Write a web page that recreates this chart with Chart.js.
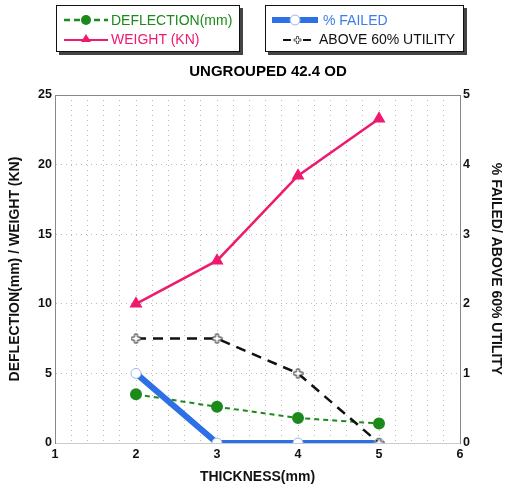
<!DOCTYPE html>
<html>
<head>
<meta charset="utf-8">
<script src="https://cdn.jsdelivr.net/npm/chart.js@4.4.0/dist/chart.umd.min.js"></script>
<style>
    body { margin: 0; background: #fff; font-family: "Liberation Sans", Arial, sans-serif; }
    .wrap { position: relative; width: 508px; height: 488px; }
    canvas { position: absolute; left: 0; top: 0; }
    .legend { position: absolute; top: 5px; height: 45px; border: 1.5px solid #111; background: #fff;
        box-shadow: 3px 3px 0 #444; font-size: 14px; }
    .row { position: absolute; left: 0; height: 18px; line-height: 18px; white-space: nowrap; }
    .row svg { position: absolute; top: 0; }
    .row span { position: absolute; top: 0; }
    .title { position: absolute; left: 0; width: 536px; top: 62px; text-align: center; font-weight: bold; font-size: 15px; }
</style>
</head>
<body>
<div class="wrap">
    <canvas id="myChart" width="508" height="488"></canvas>
    <div class="legend" style="left:56px;width:182px">
        <div class="row" style="top:5px">
            <svg width="50" height="18" style="left:5px"><line x1="2" y1="9" x2="46" y2="9" stroke="#1b8a1b" stroke-width="2.5" stroke-dasharray="6,4"/><circle cx="24" cy="9" r="5" fill="#1b8a1b"/></svg>
            <span style="left:54px;color:#1b8a1b">DEFLECTION(mm)</span>
        </div>
        <div class="row" style="top:24px">
            <svg width="50" height="18" style="left:5px"><line x1="2" y1="10" x2="46" y2="10" stroke="#ee1a6e" stroke-width="2"/><polygon points="24,4 29,12 19,12" fill="#ee1a6e"/></svg>
            <span style="left:54px;color:#ee1a6e">WEIGHT (KN)</span>
        </div>
    </div>
    <div class="legend" style="left:265px;width:197px">
        <div class="row" style="top:5px">
            <svg width="52" height="18" style="left:5px"><line x1="1" y1="9" x2="47" y2="9" stroke="#2c6fe6" stroke-width="6"/><circle cx="24" cy="9" r="5" fill="#fff" stroke="#9bb7e8" stroke-width="1"/></svg>
            <span style="left:57px;color:#3c7ce8">% FAILED</span>
        </div>
        <div class="row" style="top:24px">
            <svg width="40" height="18" style="left:16px"><line x1="1" y1="10" x2="9" y2="10" stroke="#111" stroke-width="2"/><line x1="21" y1="10" x2="29" y2="10" stroke="#111" stroke-width="2"/><path d="M13.5 8.5h2.5v-2.5h2v2.5h2.5v2h-2.5v2.5h-2v-2.5h-2.5z" transform="translate(-1.5,0.5)" fill="#fff" stroke="#333" stroke-width="0.8"/></svg>
            <span style="left:53px;color:#111">ABOVE 60% UTILITY</span>
        </div>
    </div>
    <div class="title">UNGROUPED 42.4 OD</div>
</div>
<script>
const thickness = [2, 3, 4, 5]
const deflection = [3.5, 2.6, 1.8, 1.4]
const weight = [10.0, 13.1, 19.2, 23.3]
const failed = [1.0, 0, 0, 0]
const above60 = [1.5, 1.5, 1.0, 0]
const leftTicks = [0, 5, 10, 15, 20, 25]
const rightTicks = [0, 1, 2, 3, 4, 5]

const toPoints = (ys) => thickness.map((x, i) => ({ x: x, y: ys[i] }))

// hollow plus marker for the utility line
const plus = document.createElement('canvas')
plus.width = 11; plus.height = 11
const pc = plus.getContext('2d')
pc.fillStyle = '#fff'
pc.strokeStyle = '#333'
pc.lineWidth = 1
pc.beginPath()
pc.moveTo(4, 1); pc.lineTo(7, 1); pc.lineTo(7, 4); pc.lineTo(10, 4); pc.lineTo(10, 7); pc.lineTo(7, 7)
pc.lineTo(7, 10); pc.lineTo(4, 10); pc.lineTo(4, 7); pc.lineTo(1, 7); pc.lineTo(1, 4); pc.lineTo(4, 4)
pc.closePath()
pc.fill(); pc.stroke()

const tickFont = { family: 'Liberation Sans, Arial', size: 12.5, weight: 'bold' }
const titleFont = { family: 'Liberation Sans, Arial', size: 14, weight: 'bold' }

// top border of plot
const topLine = {
    id: 'topLine',
    afterDraw(chart) {
        const a = chart.chartArea
        const c = chart.ctx
        c.save()
        c.strokeStyle = '#888'
        c.lineWidth = 1
        c.beginPath()
        c.moveTo(a.left, a.top + 0.5)
        c.lineTo(a.right, a.top + 0.5)
        c.stroke()
        c.restore()
    }
}

const ctx = document.getElementById('myChart')
const myChart = new Chart(ctx, {
    type: 'line',
    data: {
        datasets: [{
            label: 'DEFLECTION(mm)',
            data: toPoints(deflection),
            yAxisID: 'y',
            borderColor: '#1b8a1b',
            backgroundColor: '#1b8a1b',
            borderWidth: 2,
            borderDash: [5, 4],
            pointRadius: 5,
            pointStyle: 'circle',
            order: 3
        }, {
            label: 'WEIGHT (KN)',
            data: toPoints(weight),
            yAxisID: 'y',
            borderColor: '#ee1a6e',
            backgroundColor: '#ee1a6e',
            borderWidth: 2.5,
            pointRadius: 5,
            pointStyle: 'triangle',
            order: 4
        }, {
            label: '% FAILED',
            data: toPoints(failed),
            yAxisID: 'y1',
            borderColor: '#2c6fe6',
            backgroundColor: '#fff',
            pointBorderColor: '#9bb7e8',
            pointBorderWidth: 1,
            borderWidth: 6,
            pointRadius: 5,
            order: 2
        }, {
            label: 'ABOVE 60% UTILITY',
            data: toPoints(above60),
            yAxisID: 'y1',
            borderColor: '#111',
            borderWidth: 2.5,
            borderDash: [10, 7],
            pointStyle: plus,
            order: 1
        }]
    },
    options: {
        responsive: false,
        animation: false,
        layout: { padding: { top: 95, left: 0, right: 0, bottom: 0 } },
        plugins: {
            legend: { display: false },
            tooltip: { enabled: false }
        },
        scales: {
            x: {
                type: 'linear',
                min: 1,
                max: 6,
                afterFit: (s) => { s.height = 45 },
                ticks: {
                    stepSize: 0.2,
                    autoSkip: false,
                    color: '#111',
                    font: tickFont,
                    padding: 4,
                    maxRotation: 0,
                    callback: (v) => Math.abs(v - Math.round(v)) < 1e-6 ? Math.round(v) : ''
                },
                grid: { color: '#bbb', drawTicks: false },
                border: { color: '#ccc', dash: [1, 4] },
                title: { display: true, text: 'THICKNESS(mm)', color: '#111', font: titleFont, padding: { top: 4, bottom: 2 } }
            },
            y: {
                position: 'left',
                min: 0,
                max: 25,
                afterFit: (s) => { s.width = 55 },
                afterBuildTicks: (s) => { s.ticks = leftTicks.map(v => ({ value: v })) },
                ticks: { color: '#111', font: tickFont, padding: 3 },
                grid: { color: '#bbb', drawTicks: false },
                border: { color: '#888', dash: [1, 4] },
                title: { display: true, text: 'DEFLECTION(mm) / WEIGHT (KN)', color: '#111', font: titleFont, padding: { top: 7, bottom: 0 } }
            },
            y1: {
                position: 'right',
                min: 0,
                max: 5,
                afterFit: (s) => { s.width = 48 },
                afterBuildTicks: (s) => { s.ticks = rightTicks.map(v => ({ value: v })) },
                ticks: { color: '#111', font: tickFont, padding: 3 },
                grid: { drawOnChartArea: false, drawTicks: false },
                border: { color: '#888' },
                title: { display: true, text: '% FAILED/ ABOVE 60% UTILITY', color: '#111', font: titleFont, padding: { top: 4, bottom: 4 } }
            }
        }
    },
    plugins: [topLine]
});
</script>
</body>
</html>
